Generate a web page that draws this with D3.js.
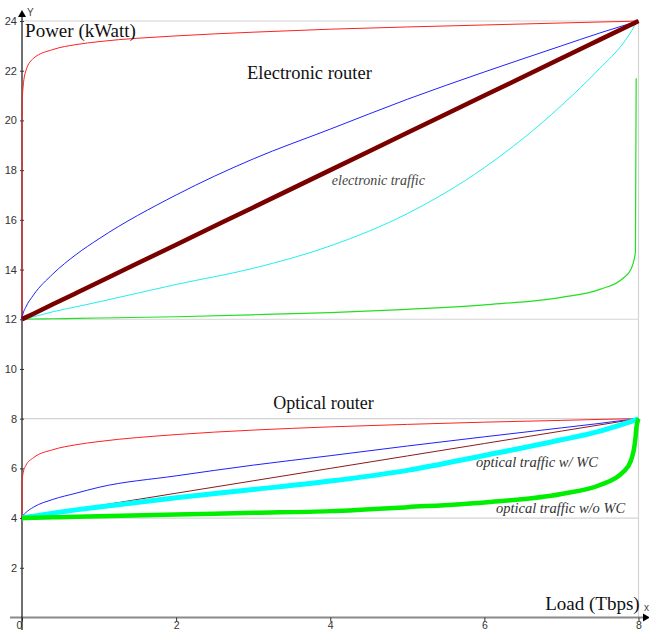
<!DOCTYPE html>
<html>
<head>
<meta charset="utf-8">
<script src="https://cdn.jsdelivr.net/npm/d3@7"></script>
<style>
  body { margin: 0; background: #fff; }
  svg { display: block; }
</style>
</head>
<body>
<svg id="chart" width="649" height="630"></svg>
<script>
// load values (Tbps) where every curve was read
var load = [0, 0.001, 0.01, 0.05, 0.15, 0.4, 0.7, 1, 2, 3, 4, 5, 6, 7, 7.5, 7.8, 7.9, 7.96, 7.97, 8];

// electronic router (kWatt)
var elecRed   = [12, 20.4, 21.2, 22.0, 22.5, 22.85, 23.05, 23.17, 23.4, 23.55, 23.67, 23.76, 23.84, 23.92, 23.96, 23.98, 23.99, 24, 24, 24];
var elecBlue  = [12, 12.04, 12.18, 12.49, 12.98, 13.82, 14.6, 15.24, 17.0, 18.45, 19.65, 20.85, 21.95, 23.0, 23.52, 23.81, 23.9, 23.96, 23.97, 24];
var elecLin   = [12, 12.0015, 12.015, 12.075, 12.225, 12.6, 13.05, 13.5, 15, 16.5, 18, 19.5, 21, 22.5, 23.25, 23.7, 23.85, 23.94, 23.955, 24];
var elecCyan  = [12, 12.001, 12.007, 12.035, 12.1, 12.3, 12.5, 12.7, 13.4, 14.05, 14.95, 16.25, 18.1, 20.6, 22.1, 23.1, 23.55, 23.85, 23.88, 24];
var elecGreen = [12, 12, 12.001, 12.004, 12.01, 12.02, 12.035, 12.05, 12.1, 12.18, 12.27, 12.4, 12.58, 12.88, 13.2, 13.65, 14.0, 14.7, 21.7, null];

// optical router (kWatt)
var optRed   = [4, 5.3, 5.74, 6.12, 6.43, 6.75, 6.95, 7.08, 7.36, 7.54, 7.67, 7.77, 7.86, 7.93, 7.97, 7.99, 7.995, 8, 8, 8];
var optBlue  = [4, 4.02, 4.08, 4.22, 4.44, 4.75, 5.0, 5.24, 5.7, 6.13, 6.51, 6.9, 7.27, 7.63, 7.81, 7.93, 7.96, 7.99, 7.99, 8];
var optLin   = [4, 4.0005, 4.005, 4.025, 4.075, 4.2, 4.35, 4.5, 5, 5.5, 6, 6.5, 7, 7.5, 7.75, 7.9, 7.95, 7.98, 7.985, 8];
var optCyan  = [4, 4, 4.006, 4.03, 4.08, 4.2, 4.33, 4.45, 4.82, 5.15, 5.49, 5.92, 6.52, 7.15, 7.5, 7.78, 7.88, 7.95, 7.96, 8];
var optGreen = [4, 4, 4.001, 4.004, 4.01, 4.03, 4.05, 4.07, 4.14, 4.21, 4.28, 4.44, 4.63, 4.97, 5.33, 5.85, 6.3, 7.2, 7.55, 8];

var xTicks = [0, 2, 4, 6, 8];
var yTicks = [2, 4, 6, 8, 10, 12, 14, 16, 18, 20, 22, 24];
var gridY = [24, 12, 8, 4];

var svg = d3.select("#chart");

var x = d3.scaleLinear().domain([0, 8]).range([22, 638.5]);
var y = d3.scaleLinear().domain([0, 24]).range([617.5, 21]);

// light gray guide lines
svg.selectAll("line.grid")
  .data(gridY)
  .enter()
  .append("line")
  .attr("class", "grid")
  .attr("x1", x(0))
  .attr("x2", x(8))
  .attr("y1", function (d) { return y(d); })
  .attr("y2", function (d) { return y(d); })
  .attr("stroke", "#d4d4d4")
  .attr("stroke-width", 1.2);

svg.append("line")
  .attr("x1", x(8)).attr("x2", x(8))
  .attr("y1", y(24)).attr("y2", y(0))
  .attr("stroke", "#d4d4d4")
  .attr("stroke-width", 1.2);

// x axis (gray, arrow on the right)
svg.append("line")
  .attr("x1", 10).attr("x2", 643)
  .attr("y1", y(0)).attr("y2", y(0))
  .attr("stroke", "#8a8a8a")
  .attr("stroke-width", 2);
svg.append("path")
  .attr("d", "M643," + (y(0) - 4) + "L650," + y(0) + "L643," + (y(0) + 4) + "Z")
  .attr("fill", "#000");
svg.append("text")
  .attr("x", 644).attr("y", 611)
  .attr("font-family", "Liberation Sans, Arial, sans-serif")
  .attr("font-size", 10)
  .attr("fill", "#444")
  .text("x");

var xAxis = svg.append("g")
  .attr("transform", "translate(0," + y(0) + ")")
  .call(d3.axisBottom(x).tickValues(xTicks).tickSize(4).tickPadding(0));
xAxis.select(".domain").remove();
xAxis.selectAll("line").attr("stroke", "#333");
xAxis.selectAll("text")
  .attr("font-family", "Liberation Sans, Arial, sans-serif")
  .attr("font-size", 10.5)
  .attr("fill", "#333")
  .attr("dx", function (d) { return d == 0 ? -3 : 0; });

// y axis (black, arrow on top)
svg.append("line")
  .attr("x1", x(0)).attr("x2", x(0))
  .attr("y1", 630).attr("y2", 16)
  .attr("stroke", "#222")
  .attr("stroke-width", 1.3);
svg.append("path")
  .attr("d", "M" + (x(0) - 4) + ",17L" + x(0) + ",10L" + (x(0) + 4) + ",17Z")
  .attr("fill", "#000");
svg.append("text")
  .attr("x", 27).attr("y", 16)
  .attr("font-family", "Liberation Sans, Arial, sans-serif")
  .attr("font-size", 10)
  .attr("fill", "#444")
  .text("Y");

var yAxis = svg.append("g")
  .attr("transform", "translate(" + x(0) + ",0)")
  .call(d3.axisLeft(y).tickValues(yTicks).tickSize(2).tickPadding(3));
yAxis.select(".domain").remove();
yAxis.selectAll(".tick line").attr("x2", 2).attr("x1", -2).attr("stroke", "#333");
yAxis.selectAll("text")
  .attr("font-family", "Liberation Sans, Arial, sans-serif")
  .attr("font-size", 11)
  .attr("fill", "#333");

// curves, thin ones first
var series = [
  { values: elecRed, color: "#ff2020", width: 1 },
  { values: elecBlue, color: "#2020ff", width: 1 },
  { values: elecCyan, color: "#20f0f0", width: 1 },
  { values: elecGreen, color: "#20e020", width: 1.2 },
  { values: elecLin, color: "#7a0000", width: 4.5 },
  { values: optRed, color: "#ff2020", width: 1 },
  { values: optBlue, color: "#2020ff", width: 1 },
  { values: optLin, color: "#8b1a1a", width: 1 },
  { values: optCyan, color: "#00ffff", width: 5 },
  { values: optGreen, color: "#00ee00", width: 4.5 }
];

var line = d3.line()
  .defined(function (d) { return d[1] != null; })
  .x(function (d) { return x(d[0]); })
  .y(function (d) { return y(d[1]); })
  .curve(d3.curveMonotoneX);

svg.selectAll("path.curve")
  .data(series)
  .enter()
  .append("path")
  .attr("class", "curve")
  .attr("fill", "none")
  .attr("stroke", function (d) { return d.color; })
  .attr("stroke-width", function (d) { return d.width; })
  .attr("stroke-linejoin", "round")
  .attr("d", function (d) {
    return line(load.map(function (l, i) { return [l, d.values[i]]; }));
  });

// labels
var labels = [
  { text: "Power (kWatt)", lx: 0.04, ly: 23.35, size: 19, italic: false, color: "#111" },
  { text: "Electronic router", lx: 2.92, ly: 21.67, size: 18.5, italic: false, color: "#111" },
  { text: "electronic traffic", lx: 4.02, ly: 17.42, size: 14, italic: true, color: "#444" },
  { text: "Optical router", lx: 3.26, ly: 8.4, size: 18, italic: false, color: "#111" },
  { text: "optical traffic w/ WC", lx: 5.89, ly: 6.06, size: 14.5, italic: true, color: "#333" },
  { text: "optical traffic w/o WC", lx: 6.15, ly: 4.21, size: 14.5, italic: true, color: "#333" },
  { text: "Load (Tbps)", lx: 6.79, ly: 0.3, size: 19, italic: false, color: "#111" }
];

svg.selectAll("text.label")
  .data(labels)
  .enter()
  .append("text")
  .attr("class", "label")
  .attr("x", function (d) { return x(d.lx); })
  .attr("y", function (d) { return y(d.ly); })
  .attr("font-family", "Liberation Serif, Times New Roman, serif")
  .attr("font-size", function (d) { return d.size; })
  .attr("font-style", function (d) { return d.italic ? "italic" : "normal"; })
  .attr("fill", function (d) { return d.color; })
  .text(function (d) { return d.text; });
</script>
</body>
</html>
